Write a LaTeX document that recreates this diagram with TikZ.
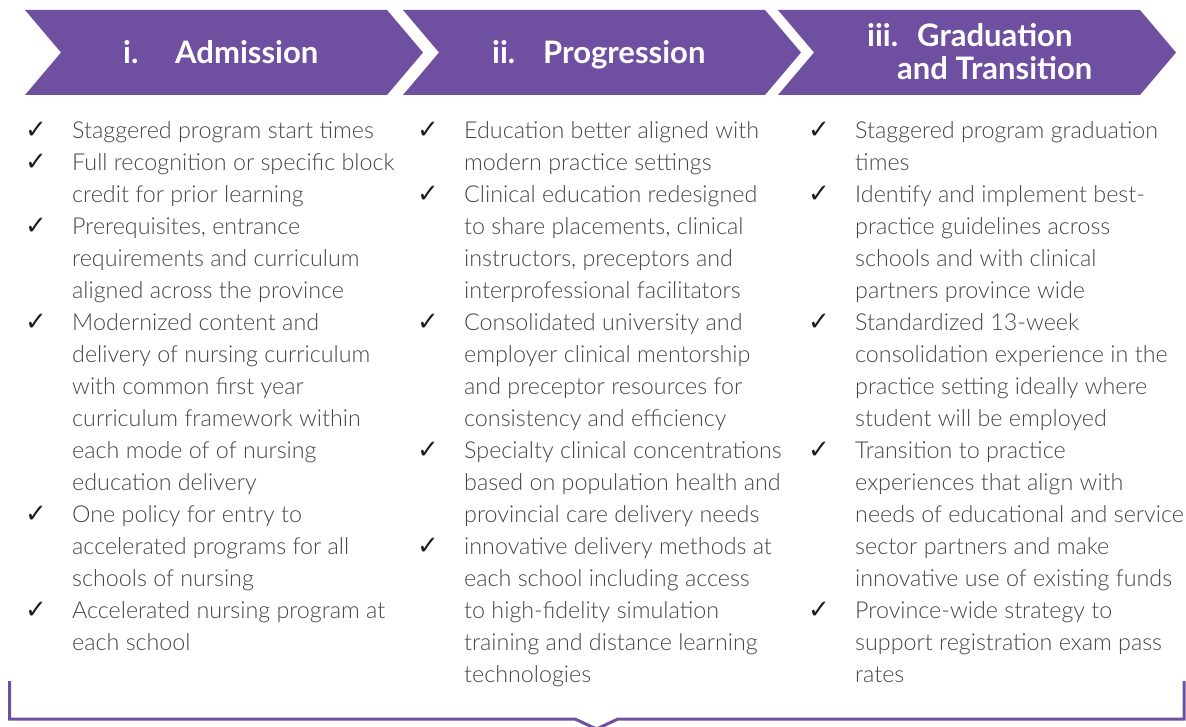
\documentclass[tikz,border=0pt]{standalone}
\usepackage{fontspec}
\setmainfont{Lato}[UprightFont=* Light,BoldFont=* Bold]
\newfontfamily\tickfont{DejaVu Sans Bold}
\usetikzlibrary{positioning}
\definecolor{Plum}{HTML}{6F4FA0}
\definecolor{Body}{HTML}{454545}
\definecolor{Tick}{HTML}{1E1E1E}
% stacked lines, baseline on the first one
\newcommand\lines[1]{\begin{tabular}[t]{@{}l@{}}#1\end{tabular}}
\tikzset{
  chev/.style={fill=Plum,draw=none},
  head/.style={text=white,font=\fontsize{31}{32}\selectfont\bfseries,inner sep=0pt,anchor=base west,yshift=-2pt},
  item/.style={text=Body,font=\fontsize{23.3}{32}\selectfont,inner sep=0pt,anchor=base west,yshift=3.5pt},
  tick/.style={text=Tick,font=\tickfont\fontsize{26}{26}\selectfont,inner sep=0pt,anchor=base west},
  bracket/.style={draw=Plum,line width=3pt}
}

\begin{document}
\begin{tikzpicture}[x=1pt,y=-1pt]
  \useasboundingbox (0,0) rectangle (1186,727);
  % stage chevrons
  \foreach \x in {25,403,778}
    \fill[chev] (\x,10) -- ++(362,0) -- ++(36,42.5) -- ++(-36,42.5) -- ++(-362,0) -- ++(36,-42.5) -- cycle;
  \node[head] (h1) at (123,62) {\makebox[52pt][l]{i.}Admission};
  \node[head] (h2) at (492,62) {\makebox[51pt][l]{ii.}Progression};
  \node[head] (h3) at (867,45) {\lines{\makebox[50pt][l]{iii.}Graduation\\\hspace*{30pt}and Transition}};
  % admission
  \node[item] (a1) at (72,142) {\lines{Staggered program start times}};
  \node[item] (a2) at (72,174) {\lines{Full recognition or specific block\\credit for prior learning}};
  \node[item] (a3) at (72,238) {\lines{Prerequisites, entrance\\requirements and curriculum\\aligned across the province}};
  \node[item] (a4) at (72,334) {\lines{Modernized content and\\delivery of nursing curriculum\\with common first year\\curriculum framework within\\each mode of of nursing\\education delivery}};
  \node[item] (a5) at (72,526) {\lines{One policy for entry to\\accelerated programs for all\\schools of nursing}};
  \node[item] (a6) at (72,622) {\lines{Accelerated nursing program at\\each school}};
  % progression
  \node[item] (b1) at (464,142) {\lines{Education better aligned with\\modern practice settings}};
  \node[item] (b2) at (464,206) {\lines{Clinical education redesigned\\to share placements, clinical\\instructors, preceptors and\\interprofessional facilitators}};
  \node[item] (b3) at (464,334) {\lines{Consolidated university and\\employer clinical mentorship\\and preceptor resources for\\consistency and efficiency}};
  \node[item] (b4) at (464,462) {\lines{Specialty clinical concentrations\\based on population health and\\provincial care delivery needs}};
  \node[item] (b5) at (464,558) {\lines{innovative delivery methods at\\each school including access\\to high-fidelity simulation\\training and distance learning\\technologies}};
  % graduation and transition
  \node[item] (c1) at (855,142) {\lines{Staggered program graduation\\times}};
  \node[item] (c2) at (855,206) {\lines{Identify and implement best-\\practice guidelines across\\schools and with clinical\\partners province wide}};
  \node[item] (c3) at (855,334) {\lines{Standardized 13-week\\consolidation experience in the\\practice setting ideally where\\student will be employed}};
  \node[item] (c4) at (855,462) {\lines{Transition to practice\\experiences that align with\\needs of educational and service\\sector partners and make\\innovative use of existing funds}};
  \node[item] (c5) at (855,622) {\lines{Province-wide strategy to\\support registration exam pass\\rates}};
  \foreach \n in {a1,a2,a3,a4,a5,a6,b1,b2,b3,b4,b5,c1,c2,c3,c4,c5}
    \node[tick] at ([xshift=-47pt]\n.base west) {✓};
  % bracket under the columns
  \coordinate (bl) at (9.5,681); \coordinate (br) at (1184,681);
  \draw[bracket] (bl) |- (575,719) -- (596.5,729) -- (618,719) -| (br);
\end{tikzpicture}
\end{document}
